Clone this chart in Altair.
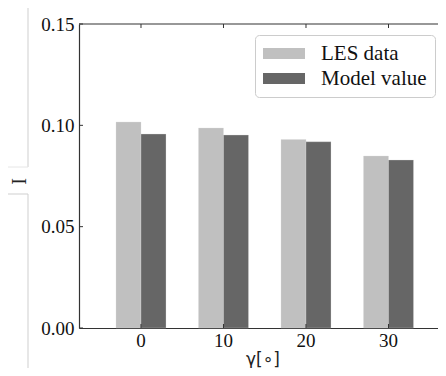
import altair as alt
import pandas as pd

gammas = [0, 10, 20, 30]
les_data = [0.1016, 0.0987, 0.0930, 0.0849]
model_value = [0.0957, 0.0952, 0.0919, 0.0829]
series_names = ["LES data", "Model value"]
series_colors = ["#c0c0c0", "#666666"]
y_ticks = [0.0, 0.05, 0.10, 0.15]

W, H = 359, 304
SERIF = "'Liberation Serif', 'Times New Roman', 'DejaVu Serif', serif"

rows = []
for g, a, b in zip(gammas, les_data, model_value):
    rows.append({"gamma": str(g), "series": series_names[0], "value": a})
    rows.append({"gamma": str(g), "series": series_names[1], "value": b})
df = pd.DataFrame(rows)

cats = [str(g) for g in gammas]
xscale = alt.Scale(domain=cats, paddingInner=0.394, paddingOuter=0.3727, align=0.6016)
yscale = alt.Scale(domain=[0, 0.15], nice=False, zero=True)

bars = alt.Chart(df).mark_bar(stroke="#dddddd", strokeWidth=0.5, strokeOpacity=0.6).encode(
    x=alt.X("gamma:N", scale=xscale, sort=cats,
            axis=alt.Axis(title="γ[∘]", labelAngle=0, labelFont=SERIF, labelFontSize=19,
                          labelColor="#111", tickSize=0, labelPadding=3, domain=True,
                          domainColor="#333", domainWidth=1.2,
                          titleFont="DejaVu Sans", titleFontSize=17, titleFontWeight="normal",
                          titleColor="#222", titleY=36, titleX=183.5, titleBaseline="alphabetic")),
    xOffset=alt.XOffset("series:N", scale=alt.Scale(domain=series_names, paddingInner=0, paddingOuter=0)),
    y=alt.Y("value:Q", scale=yscale,
            axis=alt.Axis(values=y_ticks, format=".2f", title="I", labelFont=SERIF, labelFontSize=19,
                          labelColor="#111", tickSize=0, labelPadding=5, domain=True,
                          domainColor="#333", domainWidth=1.2, grid=False,
                          titleFont=SERIF, titleFontSize=20, titleFontWeight="normal", titleColor="#222",
                          titleAngle=-90, titleX=-60, titleY=157, titleAlign="center",
                          titleBaseline="middle")),
    color=alt.Color("series:N", scale=alt.Scale(domain=series_names, range=series_colors),
                    legend=alt.Legend(title=None, orient="none", legendX=176, legendY=11,
                                      symbolType="M-1,-0.52H3V0.52H-1Z", symbolSize=441,
                                      symbolStrokeWidth=0, labelFont=SERIF, labelFontSize=21,
                                      labelColor="#111", labelOffset=37, rowPadding=3,
                                      padding=8, strokeColor="#cccccc", cornerRadius=4,
                                      fillColor="white")),
)

ticks_df = pd.DataFrame({"gamma": cats})
top_ticks = alt.Chart(ticks_df).mark_rule(color="#333", strokeWidth=1).encode(
    x=alt.X("gamma:N", scale=xscale, bandPosition=0.5), y=alt.value(0), y2=alt.value(4))
bottom_ticks = alt.Chart(ticks_df).mark_rule(color="#333", strokeWidth=1).encode(
    x=alt.X("gamma:N", scale=xscale, bandPosition=0.5), y=alt.value(H - 4), y2=alt.value(H))

yt_df = pd.DataFrame({"v": y_ticks})
left_ticks = alt.Chart(yt_df).mark_rule(color="#333", strokeWidth=1).encode(
    y=alt.Y("v:Q", scale=yscale), x=alt.value(0), x2=alt.value(4))

art_df = pd.DataFrame({"k": [0]})
top_spine = alt.Chart(art_df).mark_rule(color="#333", strokeWidth=1.2).encode(
    x=alt.value(0), x2=alt.value(W), y=alt.value(0))

# light gray frame artifact at the left edge
art_color = "#cfcfcf"
art1 = alt.Chart(art_df).mark_rule(color=art_color).encode(x=alt.value(-51), y=alt.value(-19), y2=alt.value(143))
art2 = alt.Chart(art_df).mark_rule(color=art_color).encode(x=alt.value(-51), y=alt.value(170), y2=alt.value(360))
art3 = alt.Chart(art_df).mark_rule(color="#e6e6e6").encode(x=alt.value(-72), x2=alt.value(-51), y=alt.value(143))
art4 = alt.Chart(art_df).mark_rule(color=art_color).encode(x=alt.value(-72), x2=alt.value(-51), y=alt.value(170))

chart = alt.layer(art1, art2, art3, art4, bars, top_ticks, bottom_ticks, left_ticks, top_spine).properties(
    width=W, height=H,
    autosize=alt.AutoSizeParams(type="none"),
    padding={"left": 71, "top": 16, "right": 0, "bottom": 40},
    background="white",
).configure_view(stroke=None)

chart.save("out.html", embed_options={"renderer": "svg", "actions": False})
